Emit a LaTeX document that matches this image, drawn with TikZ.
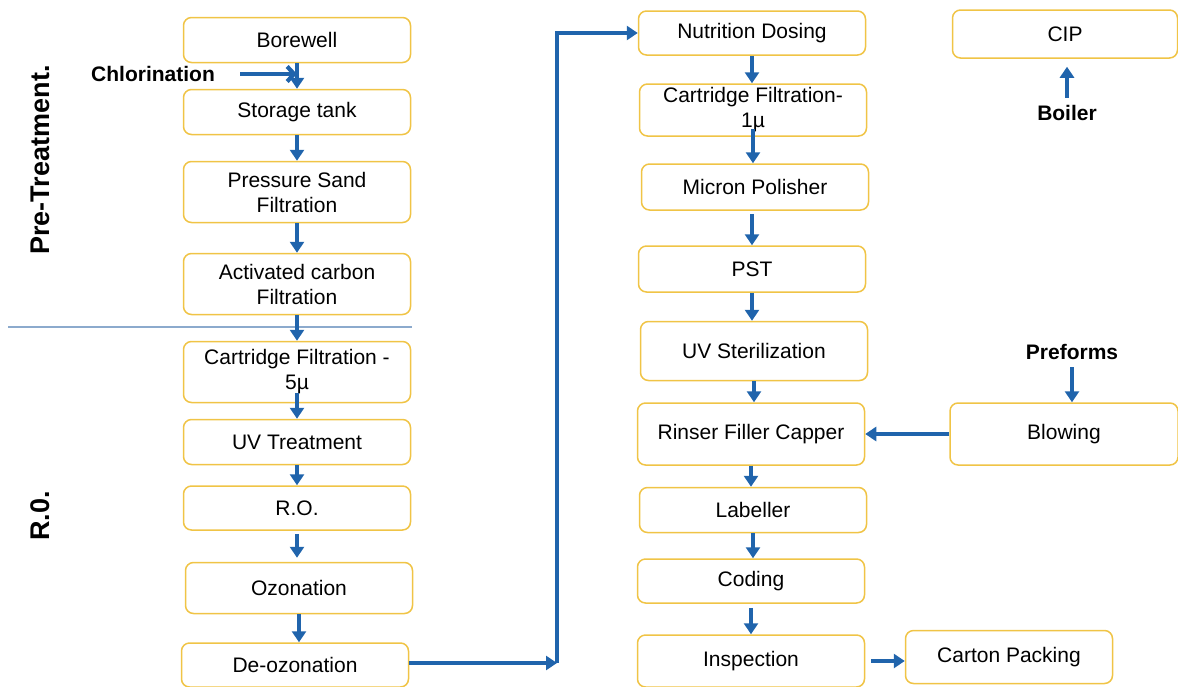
\documentclass[tikz,border=0pt]{standalone}
\usepackage{fontspec}
\setmainfont{Liberation Sans}
\usepackage{tikz}
\usepackage{xcolor}
\usetikzlibrary{positioning, arrows.meta}

\definecolor{boxgold}{RGB}{240,196,70}
\definecolor{flowblue}{RGB}{32,100,172}
\definecolor{splitblue}{RGB}{140,170,205}

\begin{document}
\begin{tikzpicture}[
            x=1pt, y=-1pt,
            box/.style={draw=boxgold, line width=1.5pt, rounded corners=8pt, fill=white,
                        minimum width=227pt, align=center, inner sep=2pt,
                        font=\fontsize{21}{25}\selectfont},
            tag/.style={font=\fontsize{21}{25}\selectfont\bfseries},
            side/.style={font=\fontsize{27}{30}\selectfont\bfseries, rotate=90},
            flow/.style={draw=flowblue, line width=4.2pt,
                         -{Triangle[length=11pt, width=14pt]}},
        ]
            \useasboundingbox (0,0) rectangle (1178,686);

            % left column
            \node[box, minimum height=45pt] (bore)  at (297,40)  {Borewell};
            \node[box, minimum height=45pt] (store) at (297,112) {Storage tank};
            \node[box, minimum height=61pt] (psf)   at (297,192) {Pressure Sand\\Filtration};
            \node[box, minimum height=61pt] (acf)   at (297,284) {Activated carbon\\Filtration};
            \node[box, minimum height=61pt] (cf5)   at (297,372) {Cartridge Filtration -\\5µ};
            \node[box, minimum height=45pt] (uvt)   at (297,442) {UV Treatment};
            \node[box, minimum height=44pt] (ro)    at (297,508) {R.O.};
            \node[box, minimum height=51pt] (ozo)   at (299,588) {Ozonation};
            \node[box, minimum height=44pt] (deoz)  at (295,665) {De-ozonation};

            % middle column
            \node[box, minimum height=44pt] (nutri)  at (752,33)  {Nutrition Dosing};
            \node[box, minimum height=52pt] (cf1)    at (753,110) {Cartridge Filtration-\\1µ};
            \node[box, minimum height=46pt] (micron) at (755,187) {Micron Polisher};
            \node[box, minimum height=46pt] (pst)    at (752,269) {PST};
            \node[box, minimum height=59pt] (uvs)    at (754,351) {UV Sterilization};
            \node[box, minimum height=62pt] (rfc)    at (751,434) {Rinser Filler Capper};
            \node[box, minimum height=45pt] (lab)    at (753,510) {Labeller};
            \node[box, minimum height=44pt] (cod)    at (751,581) {Coding};
            \node[box, minimum height=52pt] (insp)   at (751,661) {Inspection};

            % right side
            \node[box, minimum height=48pt, minimum width=225pt] (cip) at (1065,34) {CIP};
            \node[box, minimum height=62pt, minimum width=228pt] (blow) at (1064,434) {Blowing};
            \node[box, minimum height=53pt, minimum width=207pt] (carton) at (1009,657) {Carton Packing};

            % labels
            \node[tag] (chlor)    at (153,74)   {Chlorination};
            \node[tag] (boiler)   at (1067,113) {Boiler};
            \node[tag] (preforms) at (1072,352) {Preforms};
            \node[side] (pretreat) at (40,160) {Pre-Treatment.};
            \node[side] (rozero)   at (40,516) {R.0.};

            \draw[splitblue, line width=1.2pt] (8,327) -- (412,327);

            % flow arrows, left column
            \draw[flow] (bore.south) -- (bore.south |- store.north);
            \draw[flow] (store.south) -- (store.south |- psf.north);
            \draw[flow] (psf.south) -- (psf.south |- acf.north);
            \draw[flow] (acf.south) -- (acf.south |- cf5.north);
            \draw[flow] ([yshift=10pt]cf5.south) -- (cf5.south |- uvt.north);
            \draw[flow] (uvt.south) -- (uvt.south |- ro.north);
            \draw[flow, shorten <=3pt, shorten >=4pt] (ro.south) -- (ro.south |- ozo.north);
            \draw[flow] (ozo.south) -- (ozo.south |- deoz.north);
            \draw[draw=flowblue, line width=4.2pt, shorten <=22pt,
                  -{Straight Barb[length=7pt, width=15pt]}]
                (chlor.east) -- (chlor.east -| bore.south);

            \coordinate (turn) at (557,663);
            \draw[flow] (deoz.east |- turn) -- (turn);
            \draw[flow] (turn) |- (nutri.west);

            % middle column
            \draw[flow] (nutri.south) -- (nutri.south |- cf1.north);
            \draw[flow] ([yshift=8pt]cf1.south) -- (cf1.south |- micron.north);
            \draw[flow, shorten <=3pt] (pst.north |- micron.south) -- (pst.north);
            \draw[flow] (pst.south) -- (pst.south |- uvs.north);
            \draw[flow] (uvs.south) -- (uvs.south |- rfc.north);
            \draw[flow] (rfc.south) -- (rfc.south |- lab.north);
            \draw[flow] (lab.south) -- (lab.south |- cod.north);
            \draw[flow, shorten <=4pt] (cod.south) -- (cod.south |- insp.north);

            % right side
            \draw[flow, shorten <=4pt, shorten >=8pt] (boiler.north) -- (boiler.north |- cip.south);
            \draw[flow, shorten <=4pt] (preforms.south) -- (preforms.south |- blow.north);
            \draw[flow] (blow) -- (rfc);
            \draw[flow, shorten <=6pt] (insp) -- (insp -| carton.west);
        \end{tikzpicture}
\end{document}
